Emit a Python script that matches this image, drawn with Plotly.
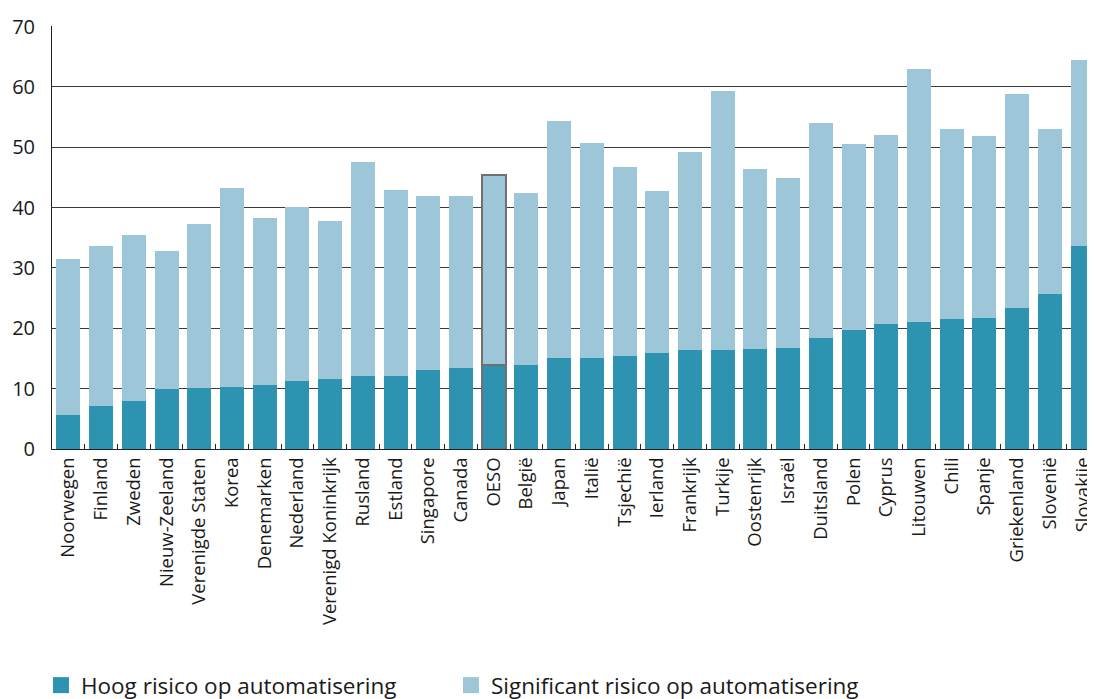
import plotly.graph_objects as go

countries = ["Noorwegen", "Finland", "Zweden", "Nieuw-Zeeland", "Verenigde Staten", "Korea",
             "Denemarken", "Nederland", "Verenigd Koninkrijk", "Rusland", "Estland", "Singapore",
             "Canada", "OESO", "België", "Japan", "Italië", "Tsjechië", "Ierland", "Frankrijk",
             "Turkije", "Oostenrijk", "Israël", "Duitsland", "Polen", "Cyprus", "Litouwen",
             "Chili", "Spanje", "Griekenland", "Slovenië", "Slovakije"]

hoog = [5.7, 7.2, 8.0, 10.0, 10.1, 10.3, 10.6, 11.3, 11.6, 12.1, 12.1, 13.1,
        13.4, 14.0, 13.9, 15.1, 15.1, 15.4, 15.9, 16.4, 16.4, 16.6, 16.8, 18.4,
        19.7, 20.7, 21.0, 21.5, 21.7, 23.4, 25.7, 33.6]

totaal = [31.5, 33.6, 35.4, 32.8, 37.3, 43.2, 38.3, 40.1, 37.8, 47.5, 43.0, 42.0,
          42.0, 45.4, 42.5, 54.3, 50.7, 46.7, 42.7, 49.2, 59.4, 46.4, 44.9, 54.1,
          50.5, 52.1, 62.9, 53.0, 51.8, 58.8, 53.0, 64.4]

significant = [round(t - h, 1) for t, h in zip(totaal, hoog)]

y_ticks = [0, 10, 20, 30, 40, 50, 60, 70]

series_names = ["Hoog risico op automatisering", "Significant risico op automatisering"]

dark = "#2E93B0"
light = "#9EC6D9"
outline = "#707070"

line_w = [2 if c == "OESO" else 0 for c in countries]

font_family = "Open Sans, sans-serif"

fig = go.Figure()
fig.add_trace(go.Bar(
    x=countries, y=hoog, name=series_names[0], showlegend=False,
    marker=dict(color=dark, line=dict(color=outline, width=line_w)),
))
fig.add_trace(go.Bar(
    x=countries, y=significant, name=series_names[1], showlegend=False,
    marker=dict(color=light, line=dict(color=outline, width=line_w)),
))
# legend-only entries (clean square swatches)
for nm, col in zip(series_names, [dark, light]):
    fig.add_trace(go.Scatter(
        x=[None], y=[None], mode="markers", name=nm,
        marker=dict(symbol="square", size=17, color=col, line=dict(width=0)),
    ))

fig.update_layout(
    width=1095, height=699,
    barmode="stack", bargap=0.266,
    plot_bgcolor="white", paper_bgcolor="white",
    margin=dict(l=44, r=4, t=18, b=258),
    font=dict(family=font_family, size=18, color="#1a1a1a"),
    showlegend=True,
    legend=dict(
        orientation="h", xref="container", yref="container",
        x=0.0301, y=-0.01, xanchor="left", yanchor="bottom",
        font=dict(size=22.5), entrywidth=365, entrywidthmode="pixels",
        traceorder="normal", itemsizing="trace",
    ),
)

fig.update_xaxes(
    range=[-0.5, 31.5], type="category", automargin=False,
    tickangle=-90, tickfont=dict(size=18.5),
    showline=True, linecolor="#222", linewidth=1,
    ticks="inside", tickson="boundaries", ticklen=5, tickcolor="#222",
    showgrid=False,
)
fig.update_yaxes(
    range=[0, 70.1], tickvals=y_ticks, tickfont=dict(size=20), automargin=False,
    showline=True, linecolor="#222", linewidth=1,
    showgrid=True, gridcolor="#3a3a3a", gridwidth=1,
    zeroline=False, ticks="", ticklabelstandoff=12,
)

fig.write_html("out.html")
